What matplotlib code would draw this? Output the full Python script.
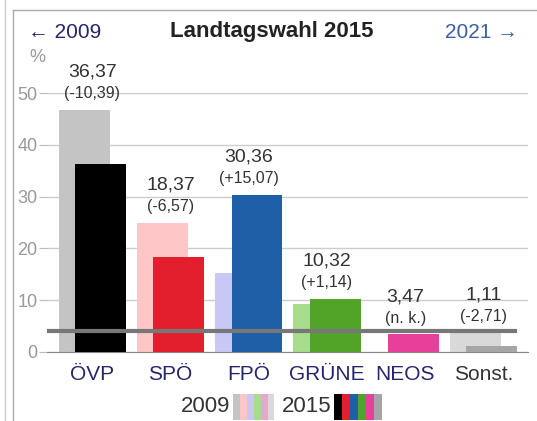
import numpy as np
import matplotlib
matplotlib.use("Agg")
import matplotlib.pyplot as plt
from matplotlib.patches import Rectangle
from matplotlib.lines import Line2D

plt.rcParams["font.family"] = ["Liberation Sans", "DejaVu Sans"]

PARTIES = ["ÖVP", "SPÖ", "FPÖ", "GRÜNE", "NEOS", "Sonst."]
RESULT_2015 = [36.37, 18.37, 30.36, 10.32, 3.47, 1.11]
RESULT_2009 = [46.76, 24.94, 15.29, 9.18, 0.0, 3.82]
CHANGE = [-10.39, -6.57, 15.07, 1.14, None, -2.71]

COLORS_2015 = ["#000000", "#e31e2d", "#1f5fa8", "#52a428", "#e8409a", "#a6a6a6"]
COLORS_2009 = ["#c4c4c4", "#ffc6c8", "#c8c8f6", "#a6dc8c", "#e6a8c8", "#d9d9d9"]
LINK_COLORS = ["#25256e"] * 5 + ["#333333"]

THRESHOLD = 4
W, H = 537, 421


def fx(px):
    return px / W


def fy(py):
    return 1 - py / H


def de(v):
    return f"{v:.2f}".replace(".", ",")


fig = plt.figure(figsize=(W / 100, H / 100), dpi=100)
ax = fig.add_axes([fx(47), fy(352), fx(528 - 47), (352 - 93) / H])

x = np.arange(len(PARTIES))
width = 0.652
off = 0.105

ax.bar(x - off, RESULT_2009, width, color=COLORS_2009, zorder=2)
ax.bar(x + off, RESULT_2015, width, color=COLORS_2015, zorder=3)
ax.hlines(THRESHOLD, -0.58, x[-1] + off + width / 2, color="#777777", lw=3, zorder=4)

for i in x:
    top = max(RESULT_2009[i], RESULT_2015[i])
    diff = "(n. k.)" if CHANGE[i] is None else f"({CHANGE[i]:+.2f})".replace(".", ",")
    ax.annotate(de(RESULT_2015[i]), (i, top), xytext=(0, 27), textcoords="offset points",
                ha="center", va="center", fontsize=14, color="#333333", annotation_clip=False)
    ax.annotate(diff, (i, top), xytext=(0, 11.5), textcoords="offset points",
                ha="center", va="center", fontsize=11.5, color="#333333", annotation_clip=False)

ax.set_xlim(-0.58, 5.57)
ax.set_ylim(0, 50)
ax.set_yticks(range(0, 51, 10))
ax.yaxis.grid(True, color="#cccccc", lw=1, zorder=0)
ax.tick_params(axis="y", length=6, color="#bbbbbb", labelcolor="#999999", labelsize=13, pad=1)
ax.set_xticks(x)
ax.set_xticklabels(PARTIES, fontsize=15)
for lbl, c in zip(ax.get_xticklabels(), LINK_COLORS):
    lbl.set_color(c)
ax.tick_params(axis="x", length=0, pad=9)
for s in ["left", "right", "top"]:
    ax.spines[s].set_visible(False)
ax.spines["bottom"].set_color("#888888")
ax.set_axisbelow(True)

# header
fig.text(fx(272), fy(32), "Landtagswahl 2015", ha="center", va="center",
         fontsize=16, fontweight="bold", color="#222222")
fig.text(fx(28), fy(32), "← 2009", ha="left", va="center", fontsize=15, color="#25256e")
fig.text(fx(518), fy(32), "2021 →", ha="right", va="center", fontsize=15, color="#3a5fa0")
fig.text(fx(37), fy(57), "%", ha="center", va="center", fontsize=13, color="#999999")

# frame
fig.add_artist(Line2D([fx(5), fx(5)], [0, 1], color="#cccccc", lw=1))
fig.add_artist(Line2D([fx(13), fx(13)], [0, fy(10)], color="#aaaaaa", lw=1))
fig.add_artist(Line2D([fx(13), 1], [fy(10), fy(10)], color="#aaaaaa", lw=1))

# legend
fig.text(fx(206), fy(407), "2009", ha="center", va="center", fontsize=16, color="#333333")
fig.text(fx(307), fy(407), "2015", ha="center", va="center", fontsize=16, color="#333333")
for start, step, cols in [(233, 6.9, COLORS_2009), (334, 8.0, COLORS_2015)]:
    for k, c in enumerate(cols):
        fig.add_artist(Rectangle((fx(start + k * step), fy(420)), fx(step), (420 - 394) / H,
                                 transform=fig.transFigure, color=c, lw=0))

fig.savefig("out.png", dpi=100)
